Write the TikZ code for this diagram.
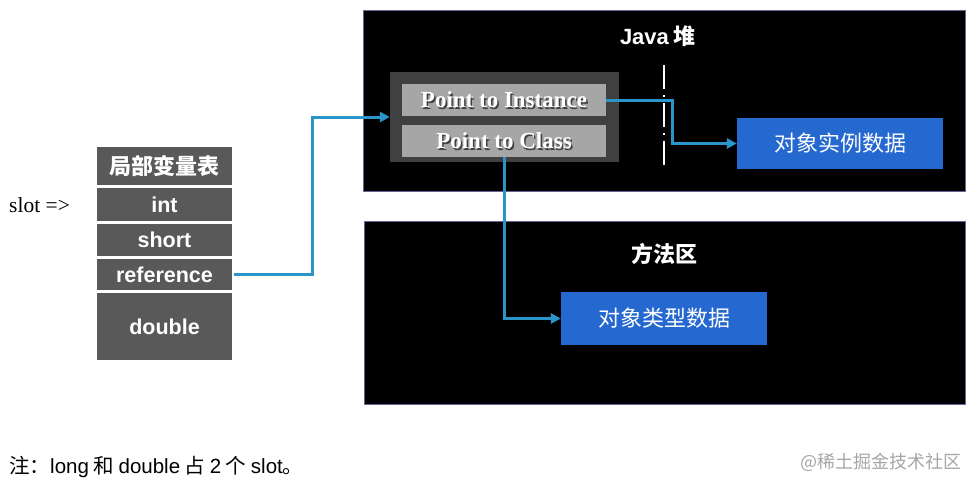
\documentclass[tikz,border=0pt]{standalone}
\usepackage{fontspec}
\newfontfamily\cjk{Noto Sans CJK SC}
\newfontfamily\arialf{Liberation Sans}
\newfontfamily\timesf{Liberation Serif}
\usetikzlibrary{arrows.meta,calc}
\definecolor{tblgray}{HTML}{595959}
\definecolor{contgray}{HTML}{404040}
\definecolor{ptgray}{HTML}{A6A6A6}
\definecolor{boxblue}{HTML}{2468D0}
\definecolor{arrblue}{HTML}{2B95C9}
\tikzset{
  area/.style={draw=black!70!blue!60, line width=0.8pt, fill=black},
  cell/.style={draw=white, line width=1.5pt, fill=tblgray, text=white, minimum width=137pt, inner sep=0pt, font=\arialf\bfseries\fontsize{21.5}{24}\selectfont},
  ptbox/.style={fill=ptgray, minimum width=204pt, minimum height=32pt, inner sep=0pt},
  pttext/.style={text=white, font=\timesf\bfseries\fontsize{23}{26}\selectfont},
  ptshadow/.style={text=black!75, font=\timesf\bfseries\fontsize{23}{26}\selectfont},
  bluebox/.style={fill=boxblue, text=white, minimum width=206pt, inner sep=0pt, font=\cjk\fontsize{22}{24}\selectfont},
  title/.style={text=white, font=\cjk\bfseries\fontsize{22}{24}\selectfont},
  arr/.style={draw=arrblue, line width=3pt, -{Triangle[length=10pt,width=10pt]}},
}
\begin{document}
\begin{tikzpicture}[x=1pt,y=-1pt]
\useasboundingbox[fill=white] (0,0) rectangle (978,488);
% areas
\node[area, minimum width=602pt, minimum height=181pt, inner sep=0pt] (heap) at (664,100.5) {};
\node[area, minimum width=601pt, minimum height=183pt, inner sep=0pt] (method) at (664.5,312.5) {};
\node[title] (heaptitle) at (658,36) {{\arialf\bfseries Java} 堆};
\node[title] (mtitle) at (664,254) {方法区};
% local variable table
\node[cell, minimum height=40pt, font=\cjk\bfseries\fontsize{22}{24}\selectfont] (hdr) at (164.5,166) {局部变量表};
\node[cell, minimum height=35pt] (int) at (164.5,204.5) {int};
\node[cell, minimum height=34pt] (short) at (164.5,240) {short};
\node[cell, minimum height=33pt] (ref) at (164.5,274.5) {reference};
\node[cell, minimum height=69pt] (dbl) at (164.5,326.5) {double};
\node[font=\timesf\fontsize{21.5}{24}\selectfont, anchor=west, inner sep=0pt] (slot) at (9,205) {slot =>};
% container
\node[fill=contgray, minimum width=229pt, minimum height=90pt, inner sep=0pt] (cont) at (504.5,117) {};
\node[ptbox] (pti) at (504,100) {};
\node[ptbox] (ptc) at (504,141) {};
\node[ptshadow] at (505.5,101.5) {Point to Instance};
\node[pttext] at (pti) {Point to Instance};
\node[ptshadow] at (505.5,142.5) {Point to Class};
\node[pttext] at (ptc) {Point to Class};
% dashed divider
\coordinate (d1) at (664,65);
\coordinate (d2) at (664,170);
\draw[white, line width=2.5pt, dash pattern=on 24pt off 6pt on 2pt off 6pt] (d1) -- (d2);
% blue boxes
\node[bluebox, minimum height=51pt] (inst) at (840,143.5) {对象实例数据};
\node[bluebox, minimum height=53pt] (cls) at (664,318.5) {对象类型数据};
% arrows
\draw[arr] (ref.east) -- ++(79,0) |- (cont.west);
\draw[arr] (pti.east) -- ++(66,0) |- (inst.west);
\draw[arr] (ptc.south) |- (cls.west);
% footnote
\node[anchor=west, inner sep=0pt, font=\cjk\fontsize{20.5}{22}\selectfont] (note) at (9,467) {注：{\arialf long} 和 {\arialf double} 占 {\arialf 2} 个 {\arialf slot}。};
\node[anchor=east, inner sep=0pt, text=black!35, font=\cjk\fontsize{18}{20}\selectfont] (wm) at (962,462) {@稀土掘金技术社区};
\end{tikzpicture}
\end{document}
